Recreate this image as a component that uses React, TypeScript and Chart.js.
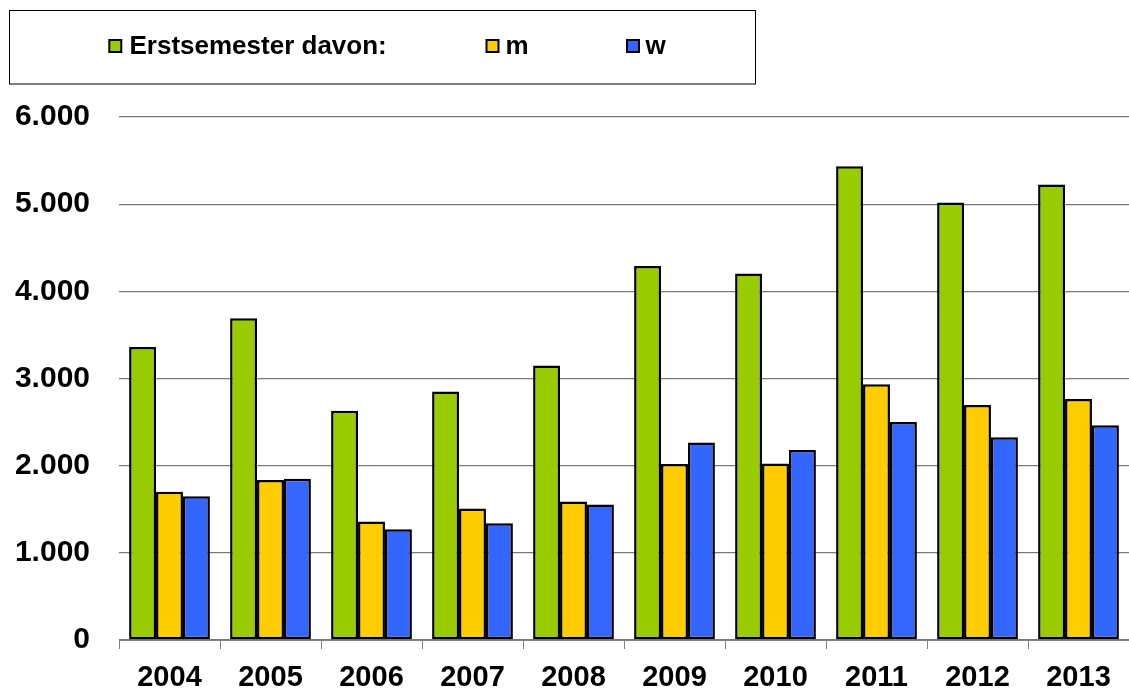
import React, { useEffect, useRef } from 'react';
import { Chart, registerables } from 'chart.js';

Chart.register(...registerables);

const categories = ['2004', '2005', '2006', '2007', '2008', '2009', '2010', '2011', '2012', '2013'];
const erstsemester = [3360, 3690, 2630, 2850, 3150, 4290, 4205, 5435, 5020, 5225];
const maennlich = [1700, 1835, 1360, 1510, 1590, 2020, 2025, 2935, 2695, 2765];
const weiblich = [1650, 1850, 1270, 1340, 1555, 2265, 2180, 2500, 2325, 2465];
const seriesLabels = ['Erstsemester davon:', 'm', 'w'];
const yTickLabels = ['0', '1.000', '2.000', '3.000', '4.000', '5.000', '6.000'];

const FONT = '"Liberation Sans", Arial, sans-serif';

const boxLegendPlugin = {
  id: 'boxLegend',
  afterDraw(chart: any) {
    const ctx = chart.ctx;
    ctx.save();
    ctx.strokeStyle = '#000';
    ctx.lineWidth = 1;
    ctx.strokeRect(9.5, 10.5, 746, 73.5);
    const markerX = [109.3, 486.5, 627];
    const textX = [129.5, 505.5, 645.5];
    const cy = 46;
    ctx.font = `bold 26px ${FONT}`;
    ctx.textBaseline = 'middle';
    ctx.textAlign = 'left';
    chart.data.datasets.forEach((ds: any, i: number) => {
      ctx.fillStyle = ds.backgroundColor;
      ctx.fillRect(markerX[i], cy - 6, 12, 12);
      ctx.strokeStyle = '#000';
      ctx.lineWidth = 2;
      ctx.strokeRect(markerX[i], cy - 6, 12, 12);
      ctx.fillStyle = '#000';
      ctx.fillText(ds.label, textX[i], cy + 1);
    });
    ctx.restore();
  },
};

export default function App() {
  const ref = useRef<HTMLCanvasElement>(null);
  useEffect(() => {
    document.body.style.margin = '0';
    const chart = new Chart(ref.current as HTMLCanvasElement, {
      type: 'bar',
      data: {
        labels: categories,
        datasets: [
          { label: seriesLabels[0], data: erstsemester, backgroundColor: '#99CC00', borderColor: '#000', borderWidth: 2.5, borderSkipped: false },
          { label: seriesLabels[1], data: maennlich, backgroundColor: '#FFCC00', borderColor: '#000', borderWidth: 2.5, borderSkipped: false },
          { label: seriesLabels[2], data: weiblich, backgroundColor: '#3366FF', borderColor: '#000', borderWidth: 2.5, borderSkipped: false },
        ],
      },
      options: {
        responsive: false,
        animation: false,
        devicePixelRatio: 1,
        layout: { padding: { top: 117, left: 0, right: 0, bottom: 0 } },
        datasets: { bar: { categoryPercentage: 0.8, barPercentage: 1 } },
        plugins: { legend: { display: false }, tooltip: { enabled: false } },
        scales: {
          x: {
            grid: { drawOnChartArea: false, drawTicks: true, tickLength: 9, color: '#808080', lineWidth: 1 },
            border: { display: true, color: '#808080', width: 1 },
            ticks: { color: '#000', font: { family: FONT, size: 29, weight: 'bold' }, padding: 12, maxRotation: 0 },
            afterFit: (s: any) => { s.height = 52; },
          },
          y: {
            min: 0,
            max: 6000,
            grid: { drawTicks: false, color: '#7a7a7a', lineWidth: 1.3 },
            border: { display: false },
            ticks: {
              stepSize: 1000,
              color: '#000',
              font: { family: FONT, size: 30, weight: 'bold' },
              padding: 29,
              callback: (_v: any, i: number) => yTickLabels[i],
            },
            afterFit: (s: any) => { s.width = 119; },
          },
        },
      } as any,
      plugins: [boxLegendPlugin],
    });
    return () => chart.destroy();
  }, []);
  return (
    <div style={{ width: 1129, height: 692, position: 'relative' }}>
      <canvas ref={ref} width={1129} height={692} />
    </div>
  );
}
